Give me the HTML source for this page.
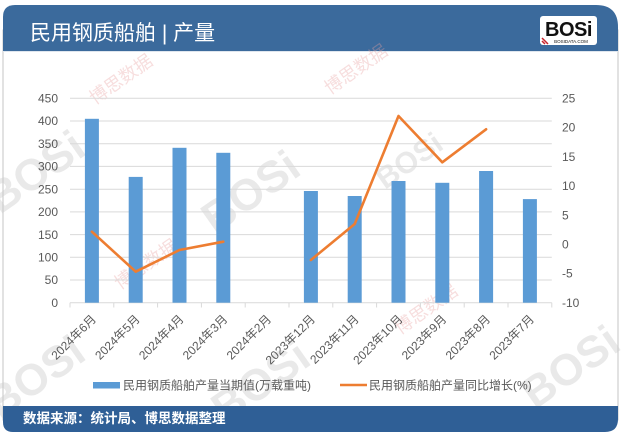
<!DOCTYPE html>
<html><head><meta charset="utf-8"><style>
html,body{margin:0;padding:0;background:#fff;}
svg{display:block;}
text{font-family:"Liberation Sans","Noto Sans CJK SC",sans-serif;}
</style></head><body>
<svg width="621" height="435" viewBox="0 0 621 435" xmlns="http://www.w3.org/2000/svg">
<rect x="0" y="0" width="621" height="435" fill="#fff"/>
<!-- card body -->
<rect x="3" y="30" width="615" height="390" fill="#fff" stroke="#c4c4c4" stroke-width="1"/>
<!-- header -->
<path d="M3,51 L3,17 Q3,5 15,5 L596,5 Q618,5 618,27 L618,51 Z" fill="#3b6a9c"/>
<line x1="3" y1="51.5" x2="618" y2="51.5" stroke="#dfe6ee" stroke-width="1"/>
<text x="30" y="40" font-size="21" fill="#fff">民用钢质船舶 | 产量</text>
<!-- logo -->
<g>
<rect x="540" y="16" width="57" height="29" rx="3" fill="#fff"/>
<text x="568.5" y="36" font-size="20" font-weight="bold" fill="#111" text-anchor="middle" letter-spacing="-0.5">BOSi</text>
<text x="571" y="43" font-size="4.5" fill="#111" text-anchor="middle">BOSIDATA.COM</text>
<path d="M542,38 L548,44 M542,41 L545,44" stroke="#c8232c" stroke-width="1.5"/>
</g>
<!-- watermarks -->
<g fill="#cfcfcf" opacity="0.45" font-weight="bold" font-size="44">
<text transform="translate(0,215) rotate(-35)">BOSi</text>
<text transform="translate(215,235) rotate(-35)">BOSi</text>
<text transform="translate(385,190) rotate(-35)" font-size="30">BOSi</text>
<text transform="translate(0,420) rotate(-35)">BOSi</text>
<text transform="translate(225,425) rotate(-35)">BOSi</text>
<text transform="translate(535,410) rotate(-35)">BOSi</text>
</g>
<g fill="#e8a0a0" opacity="0.35" font-size="18">
<text transform="translate(95,105) rotate(-35)">博思数据</text>
<text transform="translate(330,95) rotate(-35)">博思数据</text>
<text transform="translate(120,290) rotate(-35)">博思数据</text>
<text transform="translate(400,335) rotate(-35)">博思数据</text>
</g>
<!-- gridlines -->
<g stroke="#d9d9d9" stroke-width="1">
<line x1="70" y1="98.3" x2="551.8" y2="98.3"/>
<line x1="70" y1="121" x2="551.8" y2="121"/>
<line x1="70" y1="143.7" x2="551.8" y2="143.7"/>
<line x1="70" y1="166.4" x2="551.8" y2="166.4"/>
<line x1="70" y1="189.2" x2="551.8" y2="189.2"/>
<line x1="70" y1="211.9" x2="551.8" y2="211.9"/>
<line x1="70" y1="234.6" x2="551.8" y2="234.6"/>
<line x1="70" y1="257.3" x2="551.8" y2="257.3"/>
<line x1="70" y1="280" x2="551.8" y2="280"/>
<line x1="70" y1="302.7" x2="551.8" y2="302.7"/>
<line x1="70" y1="302.7" x2="70" y2="307.5"/>
<line x1="113.8" y1="302.7" x2="113.8" y2="307.5"/>
<line x1="157.6" y1="302.7" x2="157.6" y2="307.5"/>
<line x1="201.4" y1="302.7" x2="201.4" y2="307.5"/>
<line x1="245.2" y1="302.7" x2="245.2" y2="307.5"/>
<line x1="289" y1="302.7" x2="289" y2="307.5"/>
<line x1="332.8" y1="302.7" x2="332.8" y2="307.5"/>
<line x1="376.6" y1="302.7" x2="376.6" y2="307.5"/>
<line x1="420.4" y1="302.7" x2="420.4" y2="307.5"/>
<line x1="464.2" y1="302.7" x2="464.2" y2="307.5"/>
<line x1="508" y1="302.7" x2="508" y2="307.5"/>
<line x1="551.8" y1="302.7" x2="551.8" y2="307.5"/>
</g>
<!-- bars -->
<g fill="#5b9bd5">
<rect x="84.9" y="118.8" width="14" height="183.9"/>
<rect x="128.7" y="176.9" width="14" height="125.8"/>
<rect x="172.5" y="147.8" width="14" height="154.9"/>
<rect x="216.3" y="152.8" width="14" height="149.9"/>
<rect x="303.9" y="191" width="14" height="111.7"/>
<rect x="347.7" y="196" width="14" height="106.7"/>
<rect x="391.5" y="181" width="14" height="121.7"/>
<rect x="435.3" y="182.8" width="14" height="119.9"/>
<rect x="479.1" y="171" width="14" height="131.7"/>
<rect x="522.9" y="199.1" width="14" height="103.6"/>
</g>
<!-- line -->
<g fill="none" stroke="#ed7d31" stroke-width="2.6" stroke-linejoin="round" stroke-linecap="round">
<polyline points="91.9,231.7 135.7,271.7 179.5,250 223.3,241.7"/>
<polyline points="310.9,260 354.7,224 398.5,116 442.3,162.3 486.1,129.3"/>
</g>
<!-- left axis labels -->
<g font-size="12" fill="#595959" text-anchor="end">
<text x="58" y="102.5">450</text>
<text x="58" y="125.2">400</text>
<text x="58" y="147.9">350</text>
<text x="58" y="170.6">300</text>
<text x="58" y="193.4">250</text>
<text x="58" y="216.1">200</text>
<text x="58" y="238.8">150</text>
<text x="58" y="261.5">100</text>
<text x="58" y="284.2">50</text>
<text x="58" y="306.9">0</text>
</g>
<!-- right axis labels -->
<g font-size="12" fill="#595959">
<text x="562" y="102.5">25</text>
<text x="562" y="131.7">20</text>
<text x="562" y="160.9">15</text>
<text x="562" y="190.1">10</text>
<text x="562" y="219.3">5</text>
<text x="562" y="248.5">0</text>
<text x="562" y="277.7">-5</text>
<text x="562" y="306.9">-10</text>
</g>
<!-- x labels -->
<g font-size="12" fill="#595959" text-anchor="end" dominant-baseline="central">
<text transform="translate(94,317) rotate(-45)">2024年6月</text>
<text transform="translate(137.8,317) rotate(-45)">2024年5月</text>
<text transform="translate(181.6,317) rotate(-45)">2024年4月</text>
<text transform="translate(225.4,317) rotate(-45)">2024年3月</text>
<text transform="translate(269.2,317) rotate(-45)">2024年2月</text>
<text transform="translate(313,317) rotate(-45)">2023年12月</text>
<text transform="translate(356.8,317) rotate(-45)">2023年11月</text>
<text transform="translate(400.6,317) rotate(-45)">2023年10月</text>
<text transform="translate(444.4,317) rotate(-45)">2023年9月</text>
<text transform="translate(488.2,317) rotate(-45)">2023年8月</text>
<text transform="translate(532,317) rotate(-45)">2023年7月</text>
</g>
<!-- legend -->
<rect x="93" y="382" width="27" height="6.5" fill="#5b9bd5"/>
<text x="123" y="389.5" font-size="12" fill="#595959">民用钢质船舶产量当期值(万载重吨)</text>
<line x1="340" y1="385" x2="367" y2="385" stroke="#ed7d31" stroke-width="2.6"/>
<text x="369" y="389.5" font-size="12" fill="#595959">民用钢质船舶产量同比增长(%)</text>
<!-- footer -->
<path d="M3,406 L618,406 L618,419 Q618,432 605,432 L13,432 Q3,432 3,422 Z" fill="#2f5f96"/>
<text x="23" y="423" font-size="13.5" fill="#fff" font-weight="bold">数据来源：统计局、博思数据整理</text>
</svg>
</body></html>
